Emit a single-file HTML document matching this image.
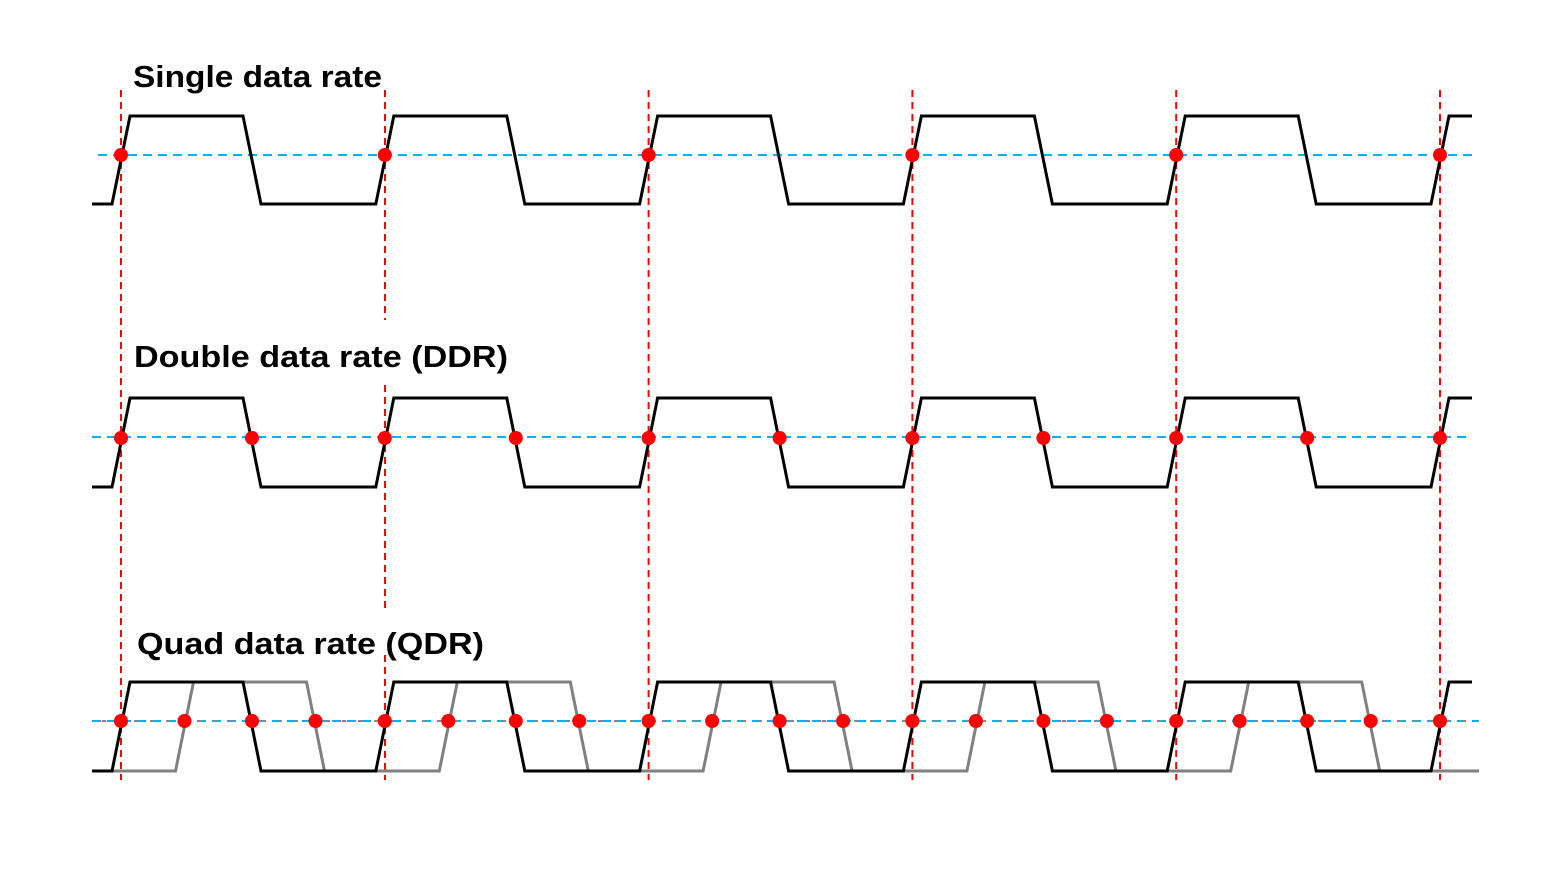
<!DOCTYPE html>
<html><head><meta charset="utf-8"><style>
html,body{margin:0;padding:0;background:#fff;}
svg{display:block}
text{font-family:"Liberation Sans",sans-serif;font-weight:bold;font-size:31px;fill:#000}
</style></head><body>
<svg id="s" width="1560" height="877" viewBox="0 0 1560 877" xmlns="http://www.w3.org/2000/svg">
<rect width="1560" height="877" fill="#fff"/>
<g id="g"></g>
<text x="133" y="87" textLength="249" lengthAdjust="spacingAndGlyphs">Single data rate</text>
<text x="134" y="367" textLength="374" lengthAdjust="spacingAndGlyphs">Double data rate (DDR)</text>
<text x="137" y="654" textLength="347" lengthAdjust="spacingAndGlyphs">Quad data rate (QDR)</text>
</svg>
<script>
var P=263.8,O=[],s=63.5,out='';
for(var k=0;k<6;k++)O.push(121+k*P);
function wave(T,B,sh,endX,col){
  var d='M92,'+B;
  for(var k=0;k<6;k++){
    var o=O[k]+sh;
    if(o-9>endX){d+=' L'+endX+','+B;break;}
    d+=' L'+(o-9)+','+B;
    if(o+9>endX){d+=' L'+endX+','+T;break;}
    d+=' L'+(o+9)+','+T;
    if(o+122>endX){d+=' L'+endX+','+T;break;}
    d+=' L'+(o+122)+','+T+' L'+(o+140)+','+B;
    if(k==5){d+=' L'+endX+','+B;}
  }
  return '<path d="'+d+'" fill="none" stroke="'+col+'" stroke-width="3" stroke-linejoin="miter"/>';
}
function hdash(y,x1,x2){return '<line x1="'+x1+'" y1="'+y+'" x2="'+x2+'" y2="'+y+'" stroke="#00b0f0" stroke-width="2" stroke-dasharray="9,6"/>';}
function vdash(x,y1,y2){return '<line x1="'+x+'" y1="'+y1+'" x2="'+x+'" y2="'+y2+'" stroke="#ff0000" stroke-width="2" stroke-dasharray="7,5"/>';}
function dot(x,y){return '<circle cx="'+x+'" cy="'+y+'" r="7" fill="#ff0000"/>';}
out+=vdash(121,90,780);
out+=vdash(385,90,320)+vdash(385,385,610)+vdash(385,655,780);
for(var k=2;k<6;k++)out+=vdash(O[k],90,780);
out+=hdash(155,98,1472)+wave(116,204,0,1472,'#000');
for(var k=0;k<6;k++)out+=dot(O[k],155);
out+=hdash(437,92,1472)+wave(398,487,0,1472,'#000');
for(var k=0;k<6;k++){out+=dot(O[k],438);if(k<5)out+=dot(O[k]+131,438);}
out+=hdash(721,92,1479)+'<line x1="92" y1="721" x2="1479" y2="721" stroke="#888" stroke-width="2" stroke-dasharray="4,12" stroke-dashoffset="-10"/>';
out+=wave(682,771,s,1479,'#808080')+wave(682,771,0,1472,'#000');
for(var k=0;k<6;k++){out+=dot(O[k],721);if(k<5){out+=dot(O[k]+s,721)+dot(O[k]+131,721)+dot(O[k]+131+s,721);}}
document.getElementById('g').innerHTML=out;
</script>
</body></html>
